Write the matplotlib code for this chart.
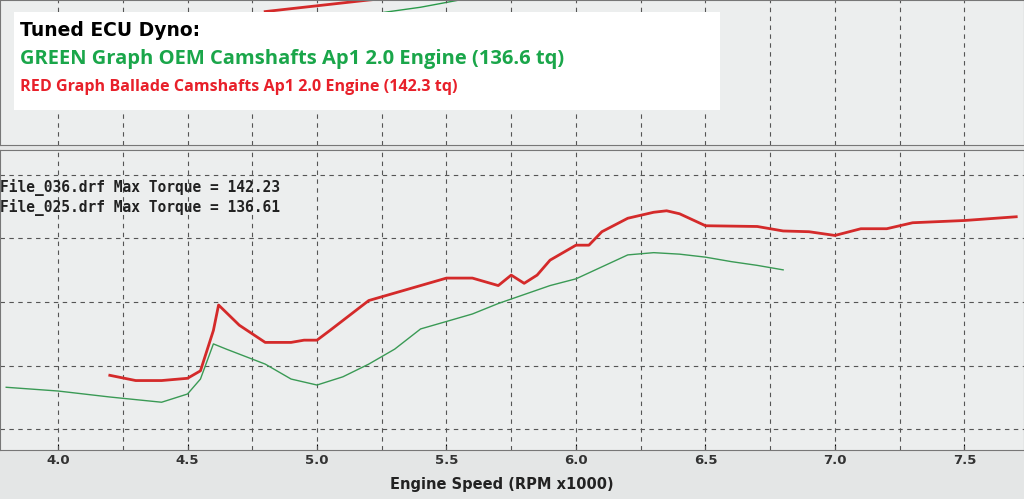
import matplotlib
matplotlib.use("Agg")
import matplotlib.pyplot as plt
import numpy as np
from matplotlib.patches import Rectangle

red_rpm = [4.2,4.3,4.4,4.5,4.55,4.6,4.62,4.7,4.8,4.9,4.95,5.0,5.05,5.2,5.3,5.4,5.5,5.6,5.7,5.75,5.8,5.85,5.9,6.0,6.05,6.1,6.2,6.3,6.35,6.4,6.5,6.7,6.8,6.9,7.0,7.1,7.2,7.3,7.5,7.7]
red_tq = [120.2,119.5,119.5,119.8,120.8,126.2,129.6,126.9,124.6,124.6,124.9,124.9,126.2,130.2,131.2,132.2,133.2,133.2,132.2,133.6,132.5,133.6,135.6,137.6,137.6,139.4,141.2,142.0,142.2,141.8,140.2,140.1,139.5,139.4,138.9,139.8,139.8,140.6,140.9,141.4]
grn_rpm = [3.8,4.0,4.2,4.4,4.5,4.55,4.6,4.65,4.8,4.9,5.0,5.1,5.2,5.3,5.4,5.5,5.6,5.7,5.8,5.9,6.0,6.1,6.2,6.3,6.4,6.5,6.6,6.7,6.8]
grn_tq = [118.6,118.1,117.3,116.6,117.7,119.7,124.4,123.7,121.7,119.7,118.9,120.0,121.7,123.7,126.4,127.4,128.4,129.8,131.0,132.2,133.1,134.7,136.3,136.6,136.4,136.0,135.4,134.9,134.3]
xticks = [4.0,4.5,5.0,5.5,6.0,6.5,7.0,7.5]

fig = plt.figure(figsize=(10.24,4.99), dpi=100)
fig.patch.set_facecolor("#e4e6e6")
xl = (3.776, 7.73)

top = fig.add_axes([0,0.71,1,0.29])
top.set_facecolor("#eceeee")
top.set_xlim(*xl); top.set_ylim(0,1)
top.plot([4.8,5.2,5.5],[0.92,1.0,1.05],color="#d42a2a",lw=2)
top.plot([5.0,5.4,5.7],[0.85,0.95,1.05],color="#2a9a4a",lw=1)
for x in np.arange(4.0,7.8,0.25):
    top.axvline(x,color="#555",ls=(0,(4,4)),lw=0.8)
top.set_xticks([]); top.set_yticks([])
for s in top.spines.values(): s.set_color("#777")

ax = fig.add_axes([0,0.098,1,0.601])
ax.set_facecolor("#eceeee")
for s in ax.spines.values(): s.set_color("#777")
ax.set_xlim(*xl); ax.set_ylim(110.2,150.3)
for x in np.arange(4.0,7.8,0.25):
    ax.axvline(x,color="#555",ls=(0,(4,4)),lw=0.8)
for y in [113,121.5,130,138.5,147]:
    ax.axhline(y,color="#555",ls=(0,(4,4)),lw=0.8)
ax.plot(grn_rpm,grn_tq,color="#3a9a55",lw=1)
ax.plot(red_rpm,red_tq,color="#d42a2a",lw=2)
ax.set_xticks(xticks)
ax.set_xticklabels([f"{v:.1f}" for v in xticks],fontsize=9.5,fontweight="bold",color="#333")
ax.set_yticks([])
ax.tick_params(axis="x",direction="in",length=4,pad=3)
ax.text(0,0.86,"File_036.drf Max Torque = 142.23",transform=ax.transAxes,family="DejaVu Sans Mono",fontsize=10.5,fontweight="bold",color="#222")
ax.text(0,0.795,"File_025.drf Max Torque = 136.61",transform=ax.transAxes,family="DejaVu Sans Mono",fontsize=10.5,fontweight="bold",color="#222")
fig.text(0.49,0.02,"Engine Speed (RPM x1000)",ha="center",fontsize=10.5,fontweight="bold",color="#222")

fig.patches.append(Rectangle((14/1024,1-110/499),706/1024,98/499,transform=fig.transFigure,facecolor="white",edgecolor="none",zorder=5))
fig.text(20/1024,1-36/499,"Tuned ECU Dyno:",fontsize=13.5,fontweight="bold",color="black",zorder=6)
fig.text(20/1024,1-64/499,"GREEN Graph OEM Camshafts Ap1 2.0 Engine (136.6 tq)",fontsize=14.5,fontweight="bold",color="#1aa64a",zorder=6,family="Open Sans")
fig.text(20/1024,1-91/499,"RED Graph Ballade Camshafts Ap1 2.0 Engine (142.3 tq)",fontsize=11.6,fontweight="bold",color="#e8202a",zorder=6,family="Open Sans")
fig.savefig("out.png",dpi=100)
